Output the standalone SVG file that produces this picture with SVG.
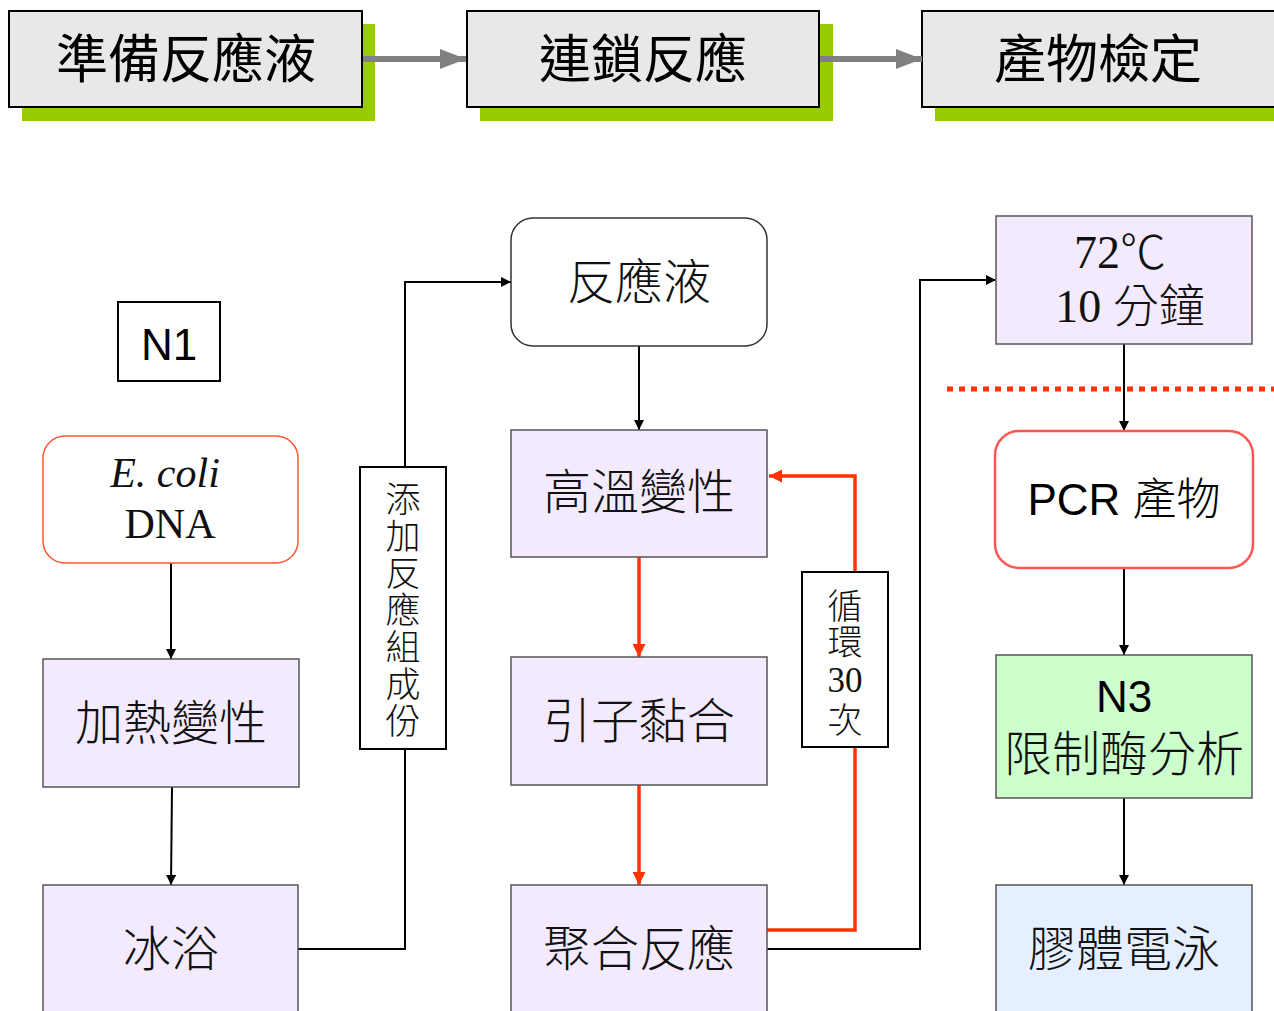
<svg xmlns="http://www.w3.org/2000/svg" width="1274" height="1011" viewBox="0 0 1274 1011">
<defs>
<style>
.ban{fill:#e8e8e8;stroke:#000;stroke-width:2}
.shd{fill:#99cc00}
.bt{font-family:"Noto Sans CJK TC","Liberation Sans",sans-serif;font-size:52px;fill:#000;text-anchor:middle}
.lav{fill:#f3ebfd;stroke:#555;stroke-width:1.5}
.t{font-family:"Liberation Serif","Noto Sans CJK TC",serif;font-size:48px;fill:#111;text-anchor:middle;font-weight:300}
.ts{font-family:"Liberation Sans","Noto Sans CJK TC",sans-serif;font-size:44px;fill:#000;text-anchor:middle}
.vt{font-family:"Liberation Serif","Noto Sans CJK TC",serif;font-size:35px;fill:#111;text-anchor:middle;font-weight:300}
.lab{fill:#fff;stroke:#000;stroke-width:2}
.blk{fill:none;stroke:#000;stroke-width:2}
.red{fill:none;stroke:#ff3300;stroke-width:3.5}
.gray{fill:none;stroke:#808080;stroke-width:6}
</style>
<marker id="ab" viewBox="0 0 10 10" refX="10" refY="5" markerWidth="10" markerHeight="10" markerUnits="userSpaceOnUse" orient="auto"><path d="M0,0 L10,5 L0,10 z" fill="#000"/></marker>
<marker id="ar" viewBox="0 0 10 10" refX="10" refY="5" markerWidth="13" markerHeight="13" markerUnits="userSpaceOnUse" orient="auto"><path d="M0,0 L10,5 L0,10 z" fill="#ff3300"/></marker>
<marker id="ag" viewBox="0 0 26 20" refX="26" refY="10" markerWidth="26" markerHeight="20" markerUnits="userSpaceOnUse" orient="auto"><path d="M0,0 L26,10 L0,20 z" fill="#808080"/></marker>
</defs>

<g id="step1">
<rect class="shd" x="22" y="24" width="353" height="97"/>
<rect class="ban" x="9" y="11" width="353" height="96"/>
<text class="bt" x="186" y="78">準備反應液</text>
</g>
<g id="step2">
<rect class="shd" x="480" y="24" width="353" height="97"/>
<rect class="ban" x="467" y="11" width="352" height="96"/>
<text class="bt" x="643" y="78">連鎖反應</text>
</g>
<g id="step3">
<rect class="shd" x="935" y="24" width="345" height="97"/>
<rect class="ban" x="922" y="11" width="360" height="96"/>
<text class="bt" x="1098" y="78">產物檢定</text>
</g>

<g id="connectors">
<line class="gray" x1="363" y1="59" x2="466" y2="59" marker-end="url(#ag)"/>
<line class="gray" x1="820" y1="59" x2="922" y2="59" marker-end="url(#ag)"/>
<line class="blk" x1="171" y1="563" x2="171" y2="659" marker-end="url(#ab)"/>
<line class="blk" x1="172" y1="787" x2="171" y2="885" marker-end="url(#ab)"/>
<polyline class="blk" points="298,949 405,949 405,282 511,282" marker-end="url(#ab)"/>
<line class="blk" x1="639" y1="346" x2="639" y2="430" marker-end="url(#ab)"/>
<line class="red" x1="639" y1="557" x2="639" y2="657" marker-end="url(#ar)"/>
<line class="red" x1="639" y1="785" x2="639" y2="885" marker-end="url(#ar)"/>
<polyline class="red" points="767,930 855,930 855,476 769,476" marker-end="url(#ar)"/>
<polyline class="blk" points="767,949 920,949 920,280 996,280" marker-end="url(#ab)"/>
<line class="blk" x1="1124" y1="344" x2="1124" y2="431" marker-end="url(#ab)"/>
<line class="blk" x1="1124" y1="568" x2="1124" y2="655" marker-end="url(#ab)"/>
<line class="blk" x1="1124" y1="798" x2="1124" y2="885" marker-end="url(#ab)"/>
<line x1="947" y1="389" x2="1274" y2="389" stroke="#ff3300" stroke-width="5" stroke-dasharray="6 6"/>
</g>

<g id="n1">
<rect x="118" y="302" width="102" height="79" fill="#fff" stroke="#000" stroke-width="2"/>
<text class="ts" x="169" y="360">N1</text>
</g>

<g id="ecoli">
<rect x="43" y="436" width="255" height="127" rx="22" fill="#fff" stroke="#ff5533" stroke-width="1.5"/>
<text class="t" x="165" y="487" style="font-style:italic;font-size:42px">E. coli</text>
<text class="t" x="170" y="538" style="font-size:42px">DNA</text>
</g>

<g id="heat">
<rect class="lav" x="43" y="659" width="256" height="128"/>
<text class="t" x="171" y="740">加熱變性</text>
</g>

<g id="ice">
<rect class="lav" x="43" y="885" width="255" height="140"/>
<text class="t" x="171" y="966">冰浴</text>
</g>

<g id="addlabel">
<rect class="lab" x="360" y="467" width="86" height="282"/>
<text class="vt" x="403" y="512">添</text>
<text class="vt" x="403" y="549">加</text>
<text class="vt" x="403" y="586">反</text>
<text class="vt" x="403" y="623">應</text>
<text class="vt" x="403" y="660">組</text>
<text class="vt" x="403" y="697">成</text>
<text class="vt" x="403" y="734">份</text>
</g>

<g id="mix">
<rect x="511" y="218" width="256" height="128" rx="22" fill="#fff" stroke="#333" stroke-width="1.5"/>
<text class="t" x="639" y="299">反應液</text>
</g>

<g id="denature">
<rect class="lav" x="511" y="430" width="256" height="127"/>
<text class="t" x="639" y="509">高溫變性</text>
</g>

<g id="anneal">
<rect class="lav" x="511" y="657" width="256" height="128"/>
<text class="t" x="639" y="738">引子黏合</text>
</g>

<g id="extend">
<rect class="lav" x="511" y="885" width="256" height="140"/>
<text class="t" x="639" y="966">聚合反應</text>
</g>

<g id="cyclelabel">
<rect class="lab" x="802" y="572" width="86" height="175"/>
<text class="vt" x="845" y="619">循</text>
<text class="vt" x="845" y="655">環</text>
<text class="vt" x="845" y="692">30</text>
<text class="vt" x="845" y="733">次</text>
</g>

<g id="final">
<rect class="lav" x="996" y="216" width="256" height="128"/>
<text class="t" x="1120" y="268" style="font-size:46px">72℃</text>
<text class="t" x="1130" y="322" style="font-size:46px">10 分鐘</text>
</g>

<g id="pcr">
<rect x="995" y="431" width="258" height="137" rx="24" fill="#fff" stroke="#ff5555" stroke-width="2.5"/>
<text class="ts" x="1124" y="515"><tspan>PCR </tspan><tspan style="font-family:'Liberation Serif','Noto Sans CJK TC',serif;font-weight:300">產物</tspan></text>
</g>

<g id="n3">
<rect x="996" y="655" width="256" height="143" fill="#ccffcc" stroke="#555" stroke-width="1.5"/>
<text class="ts" x="1124" y="712">N3</text>
<text class="t" x="1124" y="771">限制酶分析</text>
</g>

<g id="gel">
<rect x="996" y="885" width="256" height="140" fill="#e6efff" stroke="#555" stroke-width="1.5"/>
<text class="t" x="1124" y="966">膠體電泳</text>
</g>
</svg>
